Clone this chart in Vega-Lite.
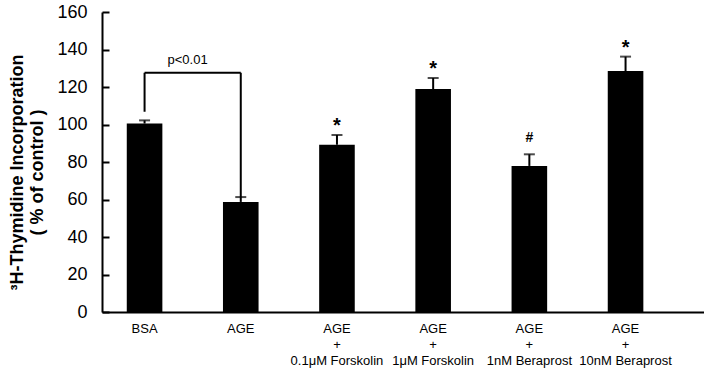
{
  "$schema": "https://vega.github.io/schema/vega-lite/v6.json",
  "width": 602,
  "height": 300,
  "autosize": {"type": "none"},
  "padding": {"left": 102, "top": 12, "right": 0, "bottom": 56},
  "background": "white",
  "config": {
    "view": {"stroke": null},
    "font": "Liberation Sans",
    "axisX": {
      "labelAngle": 0, "ticks": false,
      "labelExpr": "split(datum.label, '|')",
      "labelFontSize": 13, "labelColor": "black", "labelPadding": 10,
      "labelLineHeight": 16, "domainColor": "black", "domainWidth": 2, "grid": false
    },
    "axisY": {
      "labelOverlap": false,
      "grid": false, "tickSize": -7, "tickWidth": 2, "tickColor": "black",
      "domainColor": "black", "domainWidth": 2,
      "labelFontSize": 18, "labelColor": "black", "labelPadding": 22,
      "titleFontSize": 18, "titleFontWeight": "bold", "titleColor": "black",
      "titleLineHeight": 20, "titlePadding": 10, "titleY": 160
    }
  },
  "datasets": {
    "bars": [
      {"group": "BSA", "mean": 100.5, "upper": 102.2, "sig": ""},
      {"group": "AGE", "mean": 58.7, "upper": 61.3, "sig": ""},
      {"group": "AGE|+|0.1μM Forskolin", "mean": 89.2, "upper": 94.4, "sig": "*"},
      {"group": "AGE|+|1μM Forskolin", "mean": 118.9, "upper": 124.8, "sig": "*"},
      {"group": "AGE|+|1nM Beraprost", "mean": 77.9, "upper": 84.1, "sig": "#"},
      {"group": "AGE|+|10nM Beraprost", "mean": 128.5, "upper": 136.2, "sig": "*"}
    ],
    "bracket": [
      {"from": "BSA", "to": "AGE", "top": 127.6, "left": 106.8, "right": 61.3, "label": "p<0.01"}
    ]
  },
  "layer": [
    {
      "data": {"name": "bars"},
      "mark": {"type": "bar", "color": "black"},
      "encoding": {
        "x": {
          "field": "group", "type": "nominal", "sort": null,
          "scale": {
            "domain": ["BSA", "AGE", "AGE|+|0.1μM Forskolin", "AGE|+|1μM Forskolin", "AGE|+|1nM Beraprost", "AGE|+|10nM Beraprost"],
            "paddingInner": 0.63, "paddingOuter": 0.444, "align": 0.29
          },
          "axis": {"title": null}
        },
        "y": {
          "field": "mean", "type": "quantitative",
          "scale": {"domain": [0, 160], "nice": false},
          "axis": {"values": [0, 20, 40, 60, 80, 100, 120, 140, 160], "title": ["³H-Thymidine Incorporation", "( % of control )"]}
        }
      }
    },
    {
      "data": {"name": "bars"},
      "mark": {"type": "rule", "color": "black", "strokeWidth": 2},
      "encoding": {
        "x": {"field": "group", "type": "nominal", "sort": null, "axis": {"title": null}},
        "y": {"field": "mean", "type": "quantitative", "axis": {"values": [0, 20, 40, 60, 80, 100, 120, 140, 160], "title": ["³H-Thymidine Incorporation", "( % of control )"]}},
        "y2": {"field": "upper"}
      }
    },
    {
      "data": {"name": "bars"},
      "mark": {"type": "tick", "color": "black", "thickness": 2, "size": 11},
      "encoding": {
        "x": {"field": "group", "type": "nominal", "sort": null, "axis": {"title": null}},
        "y": {"field": "upper", "type": "quantitative", "axis": {"values": [0, 20, 40, 60, 80, 100, 120, 140, 160], "title": ["³H-Thymidine Incorporation", "( % of control )"]}}
      }
    },
    {
      "data": {"name": "bars"},
      "transform": [{"filter": "datum.sig == '*'"}],
      "mark": {"type": "text", "color": "black", "fontSize": 20, "fontWeight": "bold", "baseline": "alphabetic", "dy": -3},
      "encoding": {
        "x": {"field": "group", "type": "nominal", "sort": null, "axis": {"title": null}},
        "y": {"field": "upper", "type": "quantitative", "axis": {"values": [0, 20, 40, 60, 80, 100, 120, 140, 160], "title": ["³H-Thymidine Incorporation", "( % of control )"]}},
        "text": {"field": "sig"}
      }
    },
    {
      "data": {"name": "bars"},
      "transform": [{"filter": "datum.sig == '#'"}],
      "mark": {"type": "text", "color": "black", "fontSize": 14, "fontWeight": "bold", "baseline": "alphabetic", "dy": -12},
      "encoding": {
        "x": {"field": "group", "type": "nominal", "sort": null, "axis": {"title": null}},
        "y": {"field": "upper", "type": "quantitative", "axis": {"values": [0, 20, 40, 60, 80, 100, 120, 140, 160], "title": ["³H-Thymidine Incorporation", "( % of control )"]}},
        "text": {"field": "sig"}
      }
    },
    {
      "data": {"name": "bracket"},
      "mark": {"type": "rule", "color": "black", "strokeWidth": 2},
      "encoding": {
        "x": {"field": "from", "type": "nominal", "sort": null, "axis": {"title": null}},
        "y": {"field": "left", "type": "quantitative", "axis": {"values": [0, 20, 40, 60, 80, 100, 120, 140, 160], "title": ["³H-Thymidine Incorporation", "( % of control )"]}},
        "y2": {"field": "top"}
      }
    },
    {
      "data": {"name": "bracket"},
      "mark": {"type": "rule", "color": "black", "strokeWidth": 2},
      "encoding": {
        "x": {"field": "to", "type": "nominal", "sort": null, "axis": {"title": null}},
        "y": {"field": "right", "type": "quantitative", "axis": {"values": [0, 20, 40, 60, 80, 100, 120, 140, 160], "title": ["³H-Thymidine Incorporation", "( % of control )"]}},
        "y2": {"field": "top"}
      }
    },
    {
      "data": {"name": "bracket"},
      "mark": {"type": "rule", "color": "black", "strokeWidth": 2},
      "encoding": {
        "x": {"field": "from", "type": "nominal", "sort": null, "axis": {"title": null}},
        "x2": {"field": "to"},
        "y": {"field": "top", "type": "quantitative", "axis": {"values": [0, 20, 40, 60, 80, 100, 120, 140, 160], "title": ["³H-Thymidine Incorporation", "( % of control )"]}}
      }
    },
    {
      "data": {"name": "bracket"},
      "mark": {"type": "text", "color": "black", "fontSize": 13, "baseline": "alphabetic", "dy": -9, "dx": 43},
      "encoding": {
        "x": {"field": "from", "type": "nominal", "sort": null, "axis": {"title": null}},
        "y": {"field": "top", "type": "quantitative", "axis": {"values": [0, 20, 40, 60, 80, 100, 120, 140, 160], "title": ["³H-Thymidine Incorporation", "( % of control )"]}},
        "text": {"field": "label"}
      }
    }
  ]
}
